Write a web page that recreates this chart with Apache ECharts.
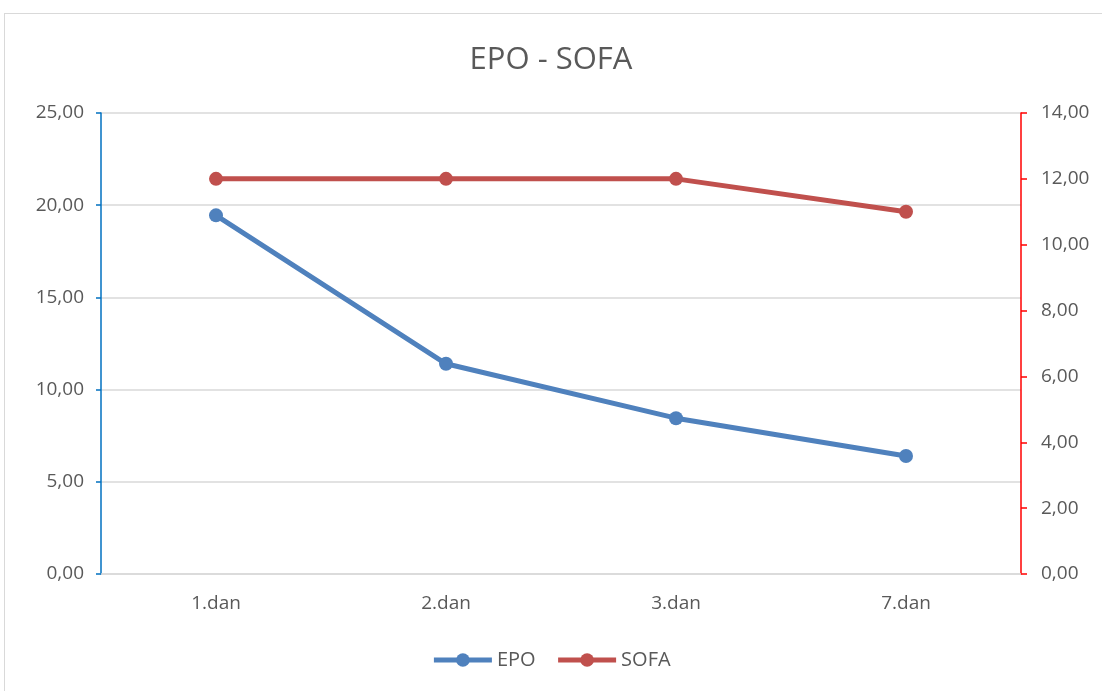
<!DOCTYPE html>
<html>
<head>
<meta charset="utf-8">
<script src="https://cdn.jsdelivr.net/npm/echarts@6/dist/echarts.min.js"></script>
<style>
  html, body { margin: 0; padding: 0; background: #fff; }
  #chart { width: 1102px; height: 691px; }
  .frame { position: absolute; left: 4px; top: 13px; width: 1200px; height: 800px;
           border-left: 1px solid #d9d9d9; border-top: 1px solid #d9d9d9; pointer-events: none; }
</style>
</head>
<body>
<div id="chart"></div>
<div class="frame"></div>
<script>
  var days = ['1.dan', '2.dan', '3.dan', '7.dan']
  var epo = [19.45, 11.4, 8.45, 6.4]
  var sofa = [12, 12, 12, 11]

  var font = '"Open Sans", "Liberation Sans", sans-serif'
  // decimalni zarez kao u originalu
  function fmt (v) {
    return v.toFixed(2).replace('.', ',')
  }

  var chart = echarts.init(document.getElementById('chart'))
  var option = {
    animation: false,
    textStyle: { fontFamily: font },
    title: {
      text: 'EPO - SOFA',
      left: 'center',
      top: 40,
      textStyle: { fontSize: 31, fontWeight: 'normal', color: '#595959', fontFamily: font }
    },
    legend: {
      bottom: 16,
      left: 'center',
      itemWidth: 58,
      itemHeight: 17,
      itemGap: 20,
      itemStyle: { borderWidth: 0 },
      lineStyle: { width: 5 },
      textStyle: { fontSize: 20, color: '#595959', fontFamily: font },
      data: ['EPO', 'SOFA']
    },
    grid: { left: 101, right: 81, top: 113, bottom: 117 },
    xAxis: {
      type: 'category',
      data: days,
      axisLine: { lineStyle: { color: '#d9d9d9', width: 1.5 } },
      axisTick: { show: false },
      axisLabel: { fontSize: 19, color: '#595959', margin: 20 }
    },
    yAxis: [{
      type: 'value',
      min: 0,
      max: 25,
      interval: 5,
      axisLine: { show: true, lineStyle: { color: '#0070c0', width: 1.5 } },
      axisTick: { show: true, inside: false, length: 5, lineStyle: { color: '#0070c0', width: 1.5 } },
      axisLabel: { fontSize: 19, color: '#595959', margin: 17, formatter: fmt },
      splitLine: { lineStyle: { color: '#d9d9d9', width: 1.5 } }
    }, {
      type: 'value',
      min: 0,
      max: 14,
      interval: 2,
      position: 'right',
      axisLine: { show: true, lineStyle: { color: '#ff0000', width: 1.5 } },
      axisTick: { show: true, length: 6, lineStyle: { color: '#ff0000', width: 1.5 } },
      axisLabel: { fontSize: 19, color: '#595959', margin: 20, formatter: fmt },
      splitLine: { show: false }
    }],
    series: [{
      name: 'EPO',
      type: 'line',
      yAxisIndex: 0,
      data: epo,
      symbol: 'circle',
      symbolSize: 14,
      color: '#4f81bd',
      lineStyle: { width: 5, color: '#4f81bd' },
      itemStyle: { color: '#4f81bd' }
    }, {
      name: 'SOFA',
      type: 'line',
      yAxisIndex: 1,
      data: sofa,
      symbol: 'circle',
      symbolSize: 14,
      color: '#c0504d',
      lineStyle: { width: 5, color: '#c0504d' },
      itemStyle: { color: '#c0504d' }
    }]
  }
  chart.setOption(option)
</script>
</body>
</html>
